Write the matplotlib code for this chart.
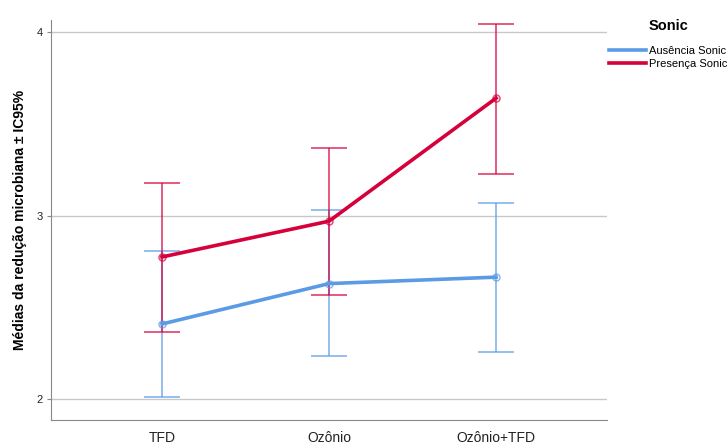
import numpy as np
import matplotlib.pyplot as plt

plt.rcParams['font.family'] = ['Liberation Sans', 'DejaVu Sans']

# --- Data ---
categories = ["TFD", "Ozônio", "Ozônio+TFD"]
series_names = ["Ausência Sonic", "Presença Sonic"]

ausencia_mean = [2.41, 2.63, 2.665]
ausencia_low = [2.01, 2.235, 2.255]
ausencia_high = [2.81, 3.03, 3.07]

presenca_mean = [2.775, 2.97, 3.64]
presenca_low = [2.365, 2.57, 3.225]
presenca_high = [3.18, 3.37, 4.045]

colors = ["#5b9be6", "#d6003a"]

# --- Figure ---
fig = plt.figure(figsize=(7.28, 4.47), dpi=100)
ax = fig.add_axes([0.070, 0.060, 0.764, 0.895])

x = np.arange(len(categories))
series = [
    (ausencia_mean, ausencia_low, ausencia_high),
    (presenca_mean, presenca_low, presenca_high),
]

for (mean, low, high), name, c in zip(series, series_names, colors):
    mean = np.array(mean)
    err = [mean - np.array(low), np.array(high) - mean]
    ax.errorbar(x, mean, yerr=err, fmt="none", ecolor=c, alpha=0.7,
                elinewidth=1.3, capsize=13, capthick=1.3, zorder=3)
    ax.plot(x, mean, color=c, lw=2.6, label=name, zorder=4)
    ax.plot(x, mean, "o", ms=5, mfc="none", mec=c, mew=1.1, alpha=0.7,
            zorder=5)

ax.set_xlim(-0.665, 2.665)
ax.set_ylim(1.886, 4.065)
ax.set_xticks(x)
ax.set_xticklabels(categories, fontsize=10, color="#222222")
ax.set_yticks([2, 3, 4])
ax.set_yticklabels(["2", "3", "4"], fontsize=8, color="#222222")
ax.tick_params(axis="x", length=0, pad=8)
ax.tick_params(axis="y", length=3, color="#888888", pad=3)

ax.yaxis.grid(True, color="#c8c8c8", lw=1.0)
ax.set_axisbelow(True)
for s in ["top", "right"]:
    ax.spines[s].set_visible(False)
for s in ["left", "bottom"]:
    ax.spines[s].set_color("#888888")

ax.set_ylabel("Médias da redução microbiana ± IC95%", fontsize=10,
              fontweight="bold", labelpad=7)

leg = ax.legend(loc="upper left", bbox_to_anchor=(609 / 728, 1 - 19 / 447),
                bbox_transform=fig.transFigure, borderaxespad=0,
                borderpad=0, frameon=False, title="Sonic", fontsize=8,
                handlelength=3.3, handletextpad=0.3, labelspacing=0.3)
leg.get_title().set_fontweight("bold")
leg.get_title().set_fontsize(10.5)
leg._legend_box.sep = 9

fig.savefig("out.png", dpi=100)
